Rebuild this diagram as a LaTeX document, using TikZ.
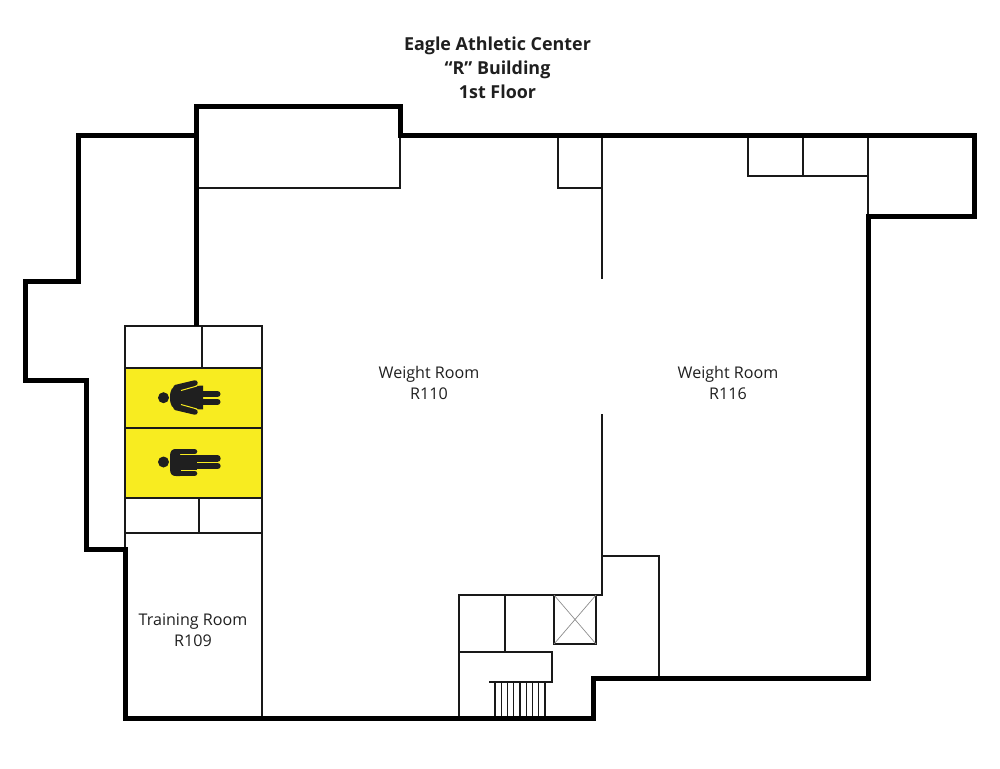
\documentclass[tikz,border=0pt]{standalone}
\usepackage{fontspec}
\setmainfont{Open Sans}
\definecolor{restroom}{HTML}{F8EC20}
\tikzstyle{wall} = [line width=5pt, black, line cap=butt, miter limit=10]
\tikzstyle{partition} = [line width=1.4pt, black!90]
\tikzstyle{figure} = [fill=black!88, draw=none]
\tikzstyle{limb} = [line width=5.5pt, black!88, line cap=round]
\tikzstyle{roomlabel} = [align=center, font=\fontsize{16.1}{21}\selectfont, text=black!88, inner sep=0pt]
\tikzstyle{titlelabel} = [align=center, font=\fontsize{17.9}{24}\selectfont\bfseries, text=black!88, inner sep=0pt]

\begin{document}
\begin{tikzpicture}[x=1pt, y=-1pt]
\useasboundingbox (0,0) rectangle (1000,768);

\fill[restroom] (125,368) rectangle (262,498);

% partitions
\draw[partition] (198,188) -- (400,188) -- (400,135);
\draw[partition] (558,135) -- (558,188) -- (602,188);
\draw[partition] (602,135) -- (602,279);
\draw[partition] (602,414) -- (602,595) -- (459,595) -- (459,718);
\draw[partition] (505,595) -- (505,652);
\draw[partition] (554,595) -- (554,644) -- (596,644) -- (596,595);
\draw[black!45, line width=0.7pt] (554,595) -- (596,644) (596,595) -- (554,644);
\draw[partition] (459,652) -- (552,652) -- (552,682) -- (489,682);
\foreach \x in {495,501.25,...,545.5}
	\draw[partition, line width=1.2pt] (\x,682) -- (\x,718);
\draw[partition] (602,556) -- (659,556) -- (659,678);
\draw[partition] (748,135) -- (748,176) -- (868,176);
\draw[partition] (803,135) -- (803,176);
\draw[partition] (868,135) -- (868,216);

% restroom block
\draw[partition] (125,326) rectangle (262,718);
\draw[partition] (202,326) -- (202,368);
\draw[partition] (125,368) -- (262,368);
\draw[partition] (125,428) -- (262,428);
\draw[partition] (125,498) -- (262,498);
\draw[partition] (199,498) -- (199,533);
\draw[partition] (125,533) -- (262,533);

% women
\fill[figure] (163.5,397.7) circle (5.5);
\fill[figure] (170,397.5) .. controls (170,390) and (172,386) .. (178,386) -- (203,385.7) -- (203,409.3) -- (178,409) .. controls (172,409) and (170,405) .. (170,397.5) -- cycle;
\draw[limb] (176,387.5) -- (195,383);
\draw[limb] (176,407.5) -- (195,412);
\draw[limb, line width=6pt] (203,394) -- (217.5,394);
\draw[limb, line width=6pt] (203,401.7) -- (217.5,401.7);
\draw[restroom, line width=1pt] (181,390.5) -- (197,386) (181,404.5) -- (197,409);

% men
\fill[figure] (163.5,462) circle (5.5);
\fill[figure] (170,456) .. controls (170,451) and (172,449) .. (176,449) -- (180,449) -- (180,476) -- (176,476) .. controls (172,476) and (170,474) .. (170,469) -- cycle;
\fill[figure] (178,455) rectangle (197,470.5);
\draw[limb] (176,451.7) -- (194.5,451.7);
\draw[limb] (176,473.3) -- (194.5,473.3);
\draw[limb, line width=6.4pt] (195,458.4) -- (217.5,458.4);
\draw[limb, line width=6.4pt] (195,466) -- (217.5,466);
\draw[restroom, line width=1pt] (181,454.7) -- (198,454.7) (181,470.3) -- (198,470.3);

% outer walls
\draw[wall] (196,326) -- (196,106) -- (400,106) -- (400,135) -- (974,135) -- (974,216) -- (868,216) -- (868,678) -- (593,678) -- (593,718) -- (125,718) -- (125,549) -- (86,549) -- (86,380) -- (25,380) -- (25,281) -- (78,281) -- (78,135) -- (196,135);

\node (title) [titlelabel] at (497.5,67.5) {Eagle Athletic Center\\``R'' Building\\1st Floor};
\node (wroomA) [roomlabel] at (429,382.5) {Weight Room\\R110};
\node (wroomB) [roomlabel] at (728,382.5) {Weight Room\\R116};
\node (troom) [roomlabel] at (193,630.5) {Training Room\\R109};
\end{tikzpicture}
\end{document}
